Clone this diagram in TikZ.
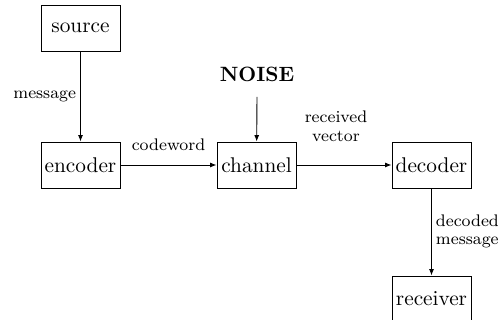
\documentclass[tikz,border=0pt]{standalone}
\usetikzlibrary{arrows.meta}
\newcommand{\lab}[1]{\scalebox{2.1}{\fontsize{8}{9.5}\selectfont#1}}
\newcommand{\labtwo}[1]{\scalebox{2.1}{\fontsize{8}{9}\selectfont\begin{tabular}{@{}c@{}}#1\end{tabular}}}
\newcommand{\labtwol}[1]{\scalebox{2.1}{\fontsize{8}{8.5}\selectfont\begin{tabular}{@{}l@{}}#1\end{tabular}}}
\newcommand{\btxt}[1]{\scalebox{2.13}{\fontsize{10}{12}\selectfont#1}}
\begin{document}
\begin{tikzpicture}[x=1pt,y=-1pt,
  blk/.style={draw,line width=0.9pt,minimum width=79pt,minimum height=46pt,inner sep=0pt},
  lbl/.style={inner sep=0pt},
  arr/.style={line width=0.9pt,-{Latex[length=6.5pt,width=5pt]}}]
\useasboundingbox (0,0) rectangle (498,320);
\clip (0,0) rectangle (498,320);
\node[blk] (source) at (80.5,28) {\btxt{source}};
\node[blk] (encoder) at (80.5,165) {\btxt{encoder}};
\node[blk] (channel) at (256.5,165) {\btxt{channel}};
\node[blk] (decoder) at (431.5,165) {\btxt{decoder}};
\node[blk] (receiver) at (431.5,299) {\btxt{receiver}};
\node[inner sep=0pt] (noise) at (257,74) {\scalebox{2.07}{\fontsize{10}{12}\selectfont\bfseries NOISE}};
\coordinate (nstart) at (257,97);
\draw[arr] (source) -- node[lbl,left=4pt] {\lab{message}} (encoder);
\draw[arr] (encoder) -- node[lbl,above=14pt] {\lab{codeword}} (channel);
\draw[arr] (channel) -- node[lbl,above=17pt,xshift=-8pt] {\labtwo{received\\vector}} (decoder);
\draw[arr] (nstart) -- (channel);
\draw[arr] (decoder) -- node[lbl,right=4pt] {\labtwol{decoded\\message}} (receiver);
\end{tikzpicture}
\end{document}
